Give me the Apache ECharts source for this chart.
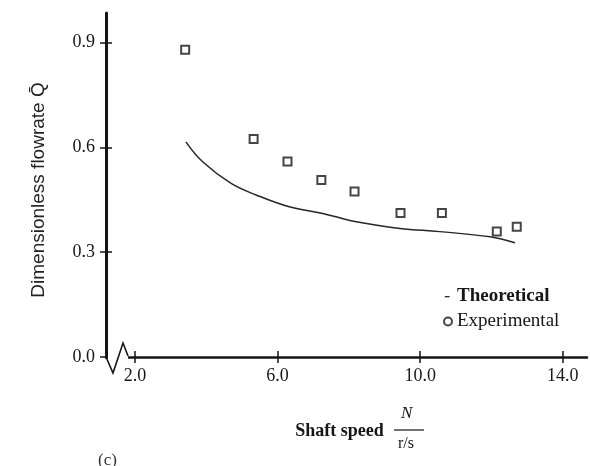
<!DOCTYPE html>
<html>
<head>
<meta charset="utf-8">
<script src="https://cdn.jsdelivr.net/npm/echarts@6/dist/echarts.min.js"></script>
<style>
  html, body { margin: 0; padding: 0; background: #fff; }
  #chart { width: 590px; height: 466px; }
</style>
</head>
<body>
<div id="chart"></div>
<script>
// shaft speed N (r/s) vs dimensionless flowrate
const theoSpeed = [3.43, 3.90, 4.70, 5.40, 6.33, 7.27, 8.21, 9.43, 10.55, 11.96, 12.66]
const theoFlow = [0.616, 0.559, 0.497, 0.464, 0.430, 0.411, 0.387, 0.368, 0.359, 0.344, 0.327]

const expSpeed = [3.41, 5.33, 6.28, 7.23, 8.16, 9.45, 10.61, 12.15, 12.71]
const expFlow = [0.880, 0.624, 0.560, 0.507, 0.474, 0.412, 0.412, 0.359, 0.373]

const xTicks = [2, 6, 10, 14]
const yTicks = [0, 0.3, 0.6, 0.9]

const INK = '#161616'
const SERIF = '"Liberation Serif", "DejaVu Serif", serif'

const chart = echarts.init(document.getElementById('chart'))

const pair = (xs, ys) => xs.map((x, i) => [x, ys[i]])

const option = {
  animation: false,
  grid: { left: 106, right: 3, top: 13, bottom: 109 },
  legend: {
    orient: 'vertical',
    left: 438,
    top: 282,
    itemGap: 6,
    itemWidth: 8,
    itemHeight: 8,
    formatter: (name) => (name === 'Theoretical' ? '{b|' + name + '}' : name),
    textStyle: {
      fontFamily: SERIF,
      fontSize: 19,
      color: INK,
      rich: { b: { fontFamily: SERIF, fontSize: 19, fontWeight: 'bold', color: INK } },
    },
    data: [
      { name: 'Theoretical', icon: 'path://M0,0M10,10M1,4.5L7,4.5L7,6L1,6Z' },
      { name: 'Experimental', icon: 'emptyCircle' },
    ],
  },
  xAxis: [
    {
      type: 'value',
      min: 1.19,
      max: 14.68,
      name: 'Shaft speed',
      nameLocation: 'middle',
      nameGap: 65,
      nameTextStyle: { fontFamily: SERIF, fontSize: 18, fontWeight: 'bold', color: INK, padding: [0, 14, 0, 0] },
      axisLine: { lineStyle: { color: INK, width: 2.5 } },
      axisTick: { length: 6, customValues: xTicks, lineStyle: { color: INK, width: 1.5 } },
      axisLabel: {
        customValues: xTicks,
        margin: 10,
        fontFamily: SERIF,
        fontSize: 18,
        color: INK,
        formatter: (v) => v.toFixed(1),
      },
      splitLine: { show: false },
    },
    {
      type: 'value',
      min: 1.19,
      max: 14.68,
      position: 'bottom',
      axisLine: { show: false },
      axisTick: { inside: true, length: 6, customValues: xTicks, lineStyle: { color: INK, width: 1.5 } },
      axisLabel: { show: false },
      splitLine: { show: false },
    },
  ],
  yAxis: [
    {
      type: 'value',
      min: 0,
      max: 0.985,
      name: 'Dimensionless flowrate Q\u0304',
      nameLocation: 'middle',
      nameGap: 58,
      nameTextStyle: { fontFamily: '"Liberation Sans", sans-serif', fontSize: 19, color: '#222', padding: [0, 10, 0, 0] },
      axisLine: { show: true, lineStyle: { color: INK, width: 3 } },
      axisTick: { show: true, length: 6, customValues: yTicks, lineStyle: { color: INK, width: 1.5 } },
      axisLabel: {
        customValues: yTicks,
        margin: 11,
        fontFamily: SERIF,
        fontSize: 18,
        color: INK,
        formatter: (v) => v.toFixed(1),
      },
      splitLine: { show: false },
    },
    {
      type: 'value',
      min: 0,
      max: 0.985,
      position: 'left',
      axisLine: { show: false },
      axisTick: { show: true, inside: true, length: 6, customValues: yTicks, lineStyle: { color: INK, width: 1.5 } },
      axisLabel: { show: false },
      splitLine: { show: false },
    },
  ],
  series: [
    {
      name: 'Theoretical',
      type: 'line',
      smooth: 0.4,
      symbol: 'none',
      data: pair(theoSpeed, theoFlow),
      lineStyle: { color: '#262626', width: 1.5 },
      itemStyle: { color: INK },
    },
    {
      name: 'Experimental',
      type: 'scatter',
      symbol: 'emptyRect',
      symbolSize: 8,
      data: pair(expSpeed, expFlow),
      itemStyle: { color: INK, borderColor: INK, borderWidth: 1.6 },
    },
  ],
  graphic: [
    // axis break on the x axis
    { type: 'rect', shape: { x: 108, y: 353, width: 20, height: 8 }, style: { fill: '#fff' }, z: 50 },
    {
      type: 'polyline',
      shape: { points: [[106, 357], [113, 373], [123, 343], [128, 356]] },
      style: { stroke: INK, lineWidth: 1.6, fill: null },
      z: 51,
    },
    // fraction N / (r/s) next to the x axis name
    { type: 'text', left: 401, top: 405, style: { text: 'N', fontFamily: SERIF, fontStyle: 'italic', fontSize: 17, fill: INK } },
    { type: 'line', shape: { x1: 394, y1: 430, x2: 424, y2: 430 }, style: { stroke: INK, lineWidth: 1.2 } },
    { type: 'text', left: 398, top: 436, style: { text: 'r/s', fontFamily: SERIF, fontSize: 16, fill: INK } },
    { type: 'text', left: 98, top: 452, style: { text: '(c)', fontFamily: SERIF, fontSize: 17, fill: '#333' } },
  ],
}

chart.setOption(option)
</script>
</body>
</html>
